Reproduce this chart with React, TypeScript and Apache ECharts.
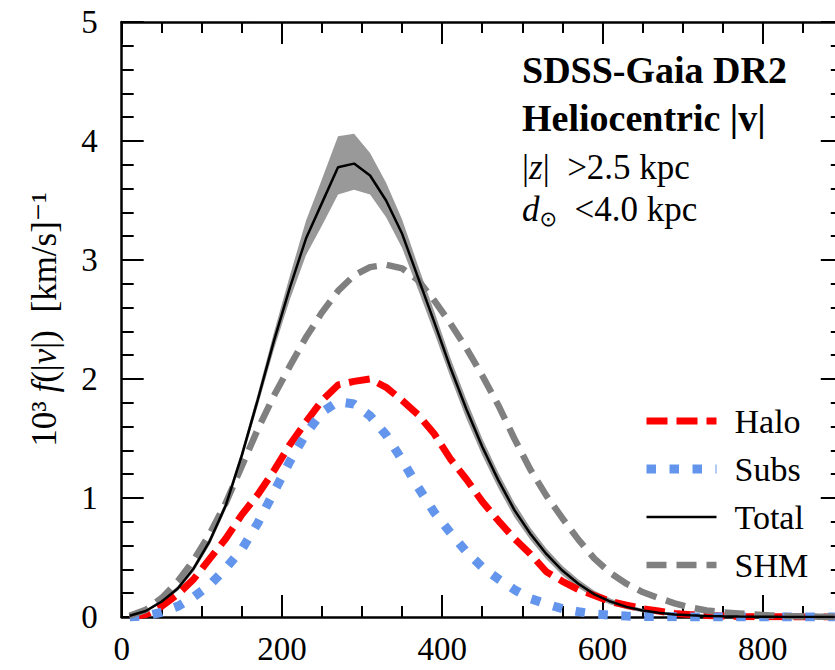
import React, { useEffect, useRef } from "react";
import * as echarts from "echarts";

// velocity bin centres (km/s)
const vel = [10, 30, 50, 70, 90, 110, 130, 150, 170, 190, 210, 230, 250, 270, 290, 310, 330, 350, 370, 390, 410, 430, 450, 470, 490, 510, 530, 550, 570, 590, 610, 630, 650, 670, 690, 710, 730, 750, 770, 790, 810, 830, 850, 870, 890];

const halo = [0.0, 0.02, 0.09, 0.19, 0.32, 0.49, 0.66, 0.86, 1.03, 1.23, 1.45, 1.64, 1.82, 1.95, 1.98, 2.0, 1.93, 1.82, 1.7, 1.54, 1.33, 1.16, 0.97, 0.81, 0.66, 0.53, 0.38, 0.3, 0.23, 0.18, 0.13, 0.1, 0.07, 0.05, 0.03, 0.02, 0.012, 0.008, 0.005, 0.003, 0.002, 0.001, 0.001, 0.0, 0.0];

const subs = [0.0, 0.01, 0.04, 0.09, 0.17, 0.27, 0.41, 0.57, 0.79, 1.05, 1.31, 1.54, 1.72, 1.81, 1.79, 1.69, 1.53, 1.32, 1.09, 0.88, 0.71, 0.55, 0.42, 0.32, 0.23, 0.155, 0.11, 0.07, 0.045, 0.025, 0.015, 0.008, 0.005, 0.003, 0.002, 0.001, 0.001, 0.001, 0.0, 0.0, 0.0, 0.0, 0.0, 0.0, 0.0];

const total = [0.01, 0.05, 0.13, 0.24, 0.41, 0.64, 0.94, 1.36, 1.83, 2.32, 2.77, 3.18, 3.48, 3.78, 3.81, 3.71, 3.5, 3.22, 2.85, 2.48, 2.1, 1.75, 1.43, 1.15, 0.9, 0.7, 0.53, 0.39, 0.28, 0.19, 0.13, 0.085, 0.055, 0.035, 0.022, 0.014, 0.009, 0.006, 0.004, 0.003, 0.002, 0.001, 0.001, 0.0, 0.0];

const totalUpper = [0.015, 0.06, 0.145, 0.26, 0.435, 0.67, 0.975, 1.4, 1.88, 2.39, 2.87, 3.33, 3.68, 4.04, 4.06, 3.9, 3.65, 3.34, 2.95, 2.57, 2.18, 1.83, 1.5, 1.215, 0.96, 0.75, 0.575, 0.43, 0.315, 0.22, 0.155, 0.105, 0.07, 0.045, 0.03, 0.02, 0.013, 0.009, 0.006, 0.004, 0.003, 0.002, 0.001, 0.001, 0.0];

const totalLower = [0.005, 0.04, 0.115, 0.22, 0.385, 0.61, 0.905, 1.32, 1.78, 2.25, 2.67, 3.04, 3.29, 3.55, 3.59, 3.55, 3.36, 3.1, 2.75, 2.39, 2.02, 1.67, 1.36, 1.085, 0.84, 0.65, 0.485, 0.35, 0.245, 0.16, 0.105, 0.065, 0.04, 0.025, 0.014, 0.008, 0.005, 0.003, 0.002, 0.002, 0.001, 0.0, 0.0, 0.0, 0.0];

const shm = [0.01, 0.06, 0.16, 0.3, 0.48, 0.7, 0.96, 1.27, 1.58, 1.86, 2.11, 2.35, 2.56, 2.74, 2.87, 2.94, 2.96, 2.93, 2.83, 2.66, 2.47, 2.26, 2.03, 1.78, 1.5, 1.24, 1.02, 0.83, 0.65, 0.49, 0.37, 0.28, 0.21, 0.16, 0.115, 0.08, 0.055, 0.04, 0.03, 0.02, 0.013, 0.008, 0.005, 0.003, 0.002];

const xTicks = { min: 0, max: 900, interval: 200 };
const yTicks = { min: 0, max: 5, interval: 1 };

const FONT = "'Liberation Serif', 'DejaVu Serif', serif";

export default function App() {
  const ref = useRef<HTMLDivElement>(null);

  useEffect(() => {
    if (!ref.current) return;
    const chart = echarts.init(ref.current, undefined, { renderer: "svg" });
    const pts = (ys: number[]) => vel.map((v, i) => [v, ys[i]]);
    const tickCommon = {
      axisLine: { show: true, onZero: false, lineStyle: { color: "#000", width: 2.5 } },
      splitLine: { show: false },
    };
    const xAxisBase = {
      type: "value",
      min: xTicks.min,
      max: xTicks.max,
      interval: xTicks.interval,
      ...tickCommon,
      axisTick: { show: true, inside: true, length: 22, lineStyle: { color: "#000", width: 2 } },
      minorTick: { show: true, splitNumber: 4, length: 11, lineStyle: { color: "#000", width: 2 } },
    };
    const yAxisBase = {
      type: "value",
      min: yTicks.min,
      max: yTicks.max,
      interval: yTicks.interval,
      ...tickCommon,
      axisTick: { show: true, inside: true, length: 22, lineStyle: { color: "#000", width: 2 } },
      minorTick: { show: true, splitNumber: 5, length: 12, lineStyle: { color: "#000", width: 2 } },
    };
    const option: any = {
      animation: false,
      backgroundColor: "#fff",
      grid: { left: 121.7, right: 17.2, top: 22, bottom: 53, containLabel: false },
      xAxis: [
        {
          ...xAxisBase,
          position: "bottom",
          axisLabel: { show: true, showMaxLabel: false, color: "#000", fontFamily: FONT, fontSize: 33, margin: 15 },
        },
        { ...xAxisBase, position: "top", axisLabel: { show: false } },
      ],
      yAxis: [
        {
          ...yAxisBase,
          position: "left",
          axisLabel: { show: true, color: "#000", fontFamily: FONT, fontSize: 33, margin: 24 },
          name: "{n|10³ }{i|f}{n|(|}{i|v}{n||)  [km/s]⁻¹}",
          nameLocation: "middle",
          nameRotate: 90,
          nameGap: 60,
          nameTextStyle: {
            color: "#000",
            fontFamily: FONT,
            fontSize: 35,
            rich: {
              n: { fontFamily: FONT, fontSize: 35, color: "#000" },
              i: { fontFamily: FONT, fontSize: 35, fontStyle: "italic", color: "#000" },
            },
          },
        },
        { ...yAxisBase, position: "right", axisLabel: { show: false } },
      ],
      legend: {
        orient: "vertical",
        left: 637,
        top: 396,
        itemWidth: 70,
        itemHeight: 14,
        itemGap: 8,
        itemStyle: { opacity: 0 },
        data: [
          { name: "Halo", lineStyle: { width: 7 } },
          { name: "Subs", lineStyle: { width: 9 } },
          { name: "Total", lineStyle: { width: 2.5 } },
          { name: "SHM", lineStyle: { width: 6.5 } },
        ],
        textStyle: { color: "#000", fontFamily: FONT, fontSize: 34, lineHeight: 40, padding: [0, 0, 0, 13] },
      },
      graphic: [
        {
          type: "text",
          x: 522,
          y: 70,
          z: 100,
          style: { text: "SDSS-Gaia DR2", font: `bold 38px ${FONT}`, fill: "#000", verticalAlign: "middle" },
        },
        {
          type: "text",
          x: 522,
          y: 118,
          z: 100,
          style: { text: "Heliocentric |v|", font: `bold 38px ${FONT}`, fill: "#000", verticalAlign: "middle" },
        },
        {
          type: "text",
          x: 522,
          y: 167,
          z: 100,
          style: {
            text: "|{i|z}|  >2.5 kpc",
            font: `35px ${FONT}`,
            fill: "#000",
            verticalAlign: "middle",
            rich: { i: { fontFamily: FONT, fontSize: 35, fontStyle: "italic", fill: "#000" } },
          },
        },
        {
          type: "text",
          x: 522,
          y: 209,
          z: 100,
          style: {
            text: "{i|d}{s|⊙}  <4.0 kpc",
            font: `35px ${FONT}`,
            fill: "#000",
            verticalAlign: "middle",
            rich: {
              i: { fontFamily: FONT, fontSize: 35, fontStyle: "italic", fill: "#000", lineHeight: 40 },
              s: { fontFamily: "'DejaVu Sans', sans-serif", fontSize: 21, fill: "#000", verticalAlign: "bottom", lineHeight: 20 },
            },
          },
        },
      ],
      series: [
        {
          name: "band",
          type: "custom",
          data: vel.map((v, i) => [v, totalLower[i], totalUpper[i]]),
          encode: { x: 0, y: [1, 2] },
          silent: true,
          z: 1,
          renderItem: (params: any, api: any) => {
            if (params.dataIndex !== 0) return null;
            const upperPts = vel.map((v, i) => api.coord([v, totalUpper[i]]));
            const lowerPts = vel.map((v, i) => api.coord([v, totalLower[i]])).reverse();
            return {
              type: "polygon",
              shape: { points: upperPts.concat(lowerPts) },
              style: { fill: "#999999", stroke: "none" },
            };
          },
        },
        {
          name: "Halo",
          type: "line",
          data: pts(halo),
          symbol: "none",
          color: "#ff0000",
          lineStyle: { color: "#ff0000", width: 7, type: [21, 9] },
          z: 3,
        },
        {
          name: "Subs",
          type: "line",
          data: pts(subs),
          symbol: "none",
          color: "#6495ed",
          lineStyle: { color: "#6495ed", width: 9, type: [9.5, 13.5] },
          z: 3,
        },
        {
          name: "Total",
          type: "line",
          data: pts(total),
          symbol: "none",
          color: "#000",
          lineStyle: { color: "#000", width: 2.5 },
          z: 4,
        },
        {
          name: "SHM",
          type: "line",
          data: pts(shm),
          symbol: "none",
          color: "#808080",
          lineStyle: { color: "#808080", width: 6.5, type: [20, 10] },
          z: 3,
        },
      ],
    };
    chart.setOption(option);
    return () => chart.dispose();
  }, []);

  return (
    <div style={{ position: "fixed", left: 0, top: 0, width: 835, height: 670, overflow: "hidden", background: "#fff" }}>
      <div ref={ref} style={{ width: 860, height: 670 }} />
    </div>
  );
}
